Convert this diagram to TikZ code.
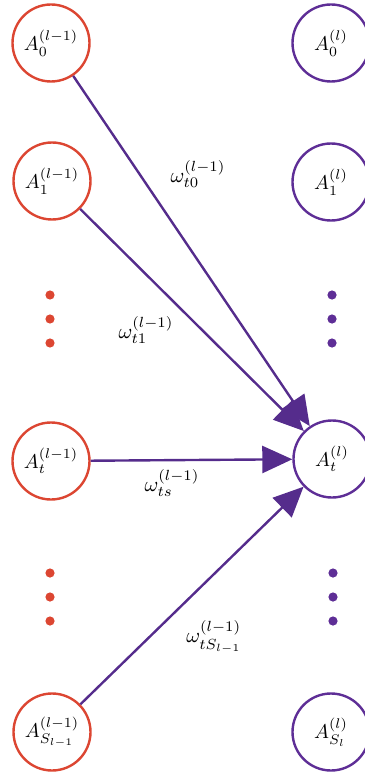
\documentclass[tikz,border=0pt]{standalone}
\usetikzlibrary{arrows.meta}
\definecolor{prevred}{HTML}{DC4632}
\definecolor{layerpurple}{HTML}{5E2E96}
\definecolor{wirepurple}{HTML}{552C8C}
\tikzset{
  prevneuron/.style={circle, draw=prevred, line width=1.2pt, minimum size=38.5pt, inner sep=0pt, fill=white},
  curneuron/.style={circle, draw=layerpurple, line width=1.2pt, minimum size=38.5pt, inner sep=0pt, fill=white},
  reddot/.style={circle, fill=prevred, inner sep=0pt, minimum size=4.6pt},
  purpledot/.style={circle, fill=layerpurple, inner sep=0pt, minimum size=4.6pt},
  weight/.style={draw=wirepurple, line width=1.2pt, -{Triangle[length=15pt,width=13.5pt]}},
  wlabel/.style={inner sep=1pt, scale=1.05}
}
\begin{document}
\begin{tikzpicture}[x=0.5pt, y=-0.5pt]
  \useasboundingbox (0,0) rectangle (364,775);

  % previous layer l-1
  \node[prevneuron] (p0) at (51,43)  {$A_0^{(l-1)}$};
  \node[prevneuron] (p1) at (52,181) {$A_1^{(l-1)}$};
  \node[reddot] (rd1) at (50,295) {};
  \node[reddot] (rd2) at (50,319) {};
  \node[reddot] (rd3) at (50,343) {};
  \node[prevneuron] (pt) at (51,461) {$A_t^{(l-1)}$};
  \node[reddot] (rd4) at (50,573) {};
  \node[reddot] (rd5) at (50,597) {};
  \node[reddot] (rd6) at (50,621) {};
  \node[prevneuron] (ps) at (52,732) {$A_{S_{l-1}}^{(l-1)}$};

  % current layer l
  \node[curneuron] (c0) at (331,43)  {$A_0^{(l)}$};
  \node[curneuron] (c1) at (331,182) {$A_1^{(l)}$};
  \node[purpledot] (pd1) at (332,295) {};
  \node[purpledot] (pd2) at (332,319) {};
  \node[purpledot] (pd3) at (332,343) {};
  \node[curneuron] (ct) at (332,459) {$A_t^{(l)}$};
  \node[purpledot] (pd4) at (333,573) {};
  \node[purpledot] (pd5) at (333,597) {};
  \node[purpledot] (pd6) at (333,621) {};
  \node[curneuron] (cs) at (331,732) {$A_{S_l}^{(l)}$};

  % weighted connections into A_t^(l)
  \draw[weight] (p0) -- (ct);
  \draw[weight] (p1) -- (ct);
  \draw[weight] (pt) -- (ct);
  \draw[weight] (ps) -- (ct);

  % weight labels
  \node[wlabel] (w0) at (198,174) {$\omega_{t0}^{(l-1)}$};
  \node[wlabel] (w1) at (146,330) {$\omega_{t1}^{(l-1)}$};
  \node[wlabel] (ws) at (172,483) {$\omega_{ts}^{(l-1)}$};
  \node[wlabel] (wS) at (214,637) {$\omega_{tS_{l-1}}^{(l-1)}$};
\end{tikzpicture}
\end{document}
